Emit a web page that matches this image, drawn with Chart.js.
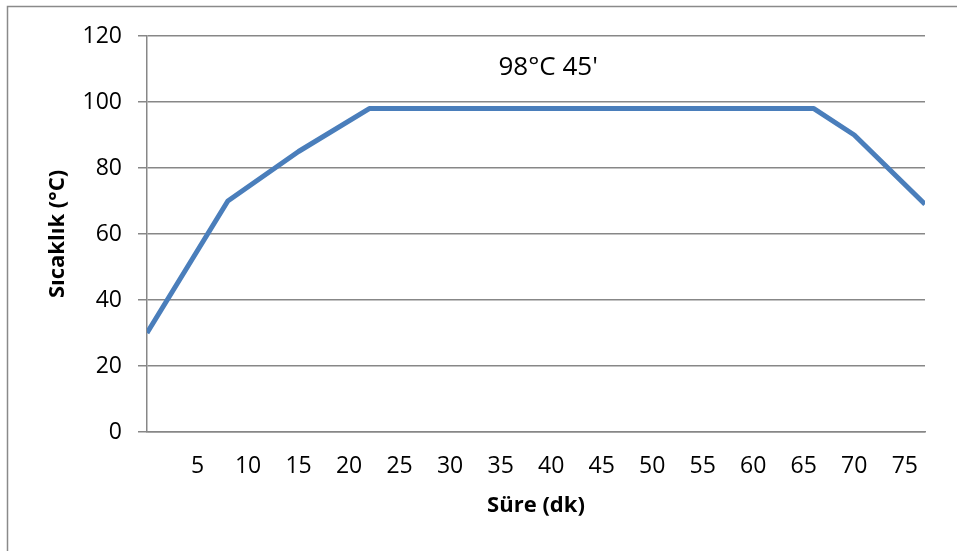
<!DOCTYPE html>
<html>
<head>
<meta charset="utf-8">
<script src="https://cdn.jsdelivr.net/npm/chart.js@4/dist/chart.umd.min.js"></script>
<style>
  html, body { margin: 0; padding: 0; background: #ffffff; }
  #wrap { width: 957px; height: 551px; position: relative; }
</style>
</head>
<body>
<div id="wrap"><canvas id="c" width="957" height="551"></canvas></div>
<script>
// Heating profile: time (minutes) against temperature (°C)
const timeMinutes = [0, 8, 15, 22, 66, 70, 77];
const temperatureC = [30, 70, 85, 98, 98, 90, 69];
const xTickValues = [5, 10, 15, 20, 25, 30, 35, 40, 45, 50, 55, 60, 65, 70, 75];
const holdLabel = "98°C 45'";
const xTitle = 'Süre (dk)';
const yTitle = 'Sıcaklık (°C)';

const FONT = "'Open Sans', 'Liberation Sans', sans-serif";
const GRID = '#878787';

// Outer frame and the hold-time note inside the plot
const decorations = {
  id: 'decorations',
  beforeDraw(chart) {
    const ctx = chart.ctx;
    ctx.save();
    ctx.fillStyle = '#ffffff';
    ctx.fillRect(0, 0, chart.width, chart.height);
    ctx.strokeStyle = '#8a8a8a';
    ctx.lineWidth = 1.5;
    ctx.strokeRect(7.5, 6.5, 1200, 1200);
    ctx.restore();
  },
  afterDatasetsDraw(chart) {
    const ctx = chart.ctx;
    const xs = chart.scales.x, ys = chart.scales.y;
    ctx.save();
    ctx.font = "26px " + FONT;
    ctx.fillStyle = '#000000';
    ctx.textAlign = 'center';
    ctx.textBaseline = 'middle';
    ctx.fillText(holdLabel, xs.getPixelForValue(39.7), ys.getPixelForValue(110.5));
    ctx.restore();
  }
};

new Chart(document.getElementById('c'), {
  type: 'line',
  data: {
    datasets: [{
      data: timeMinutes.map((t, i) => ({ x: t, y: temperatureC[i] })),
      borderColor: '#4a7ebb',
      borderWidth: 5,
      pointRadius: 0,
      tension: 0,
      borderJoinStyle: 'round',
      borderCapStyle: 'butt',
      fill: false
    }]
  },
  options: {
    responsive: false,
    animation: false,
    devicePixelRatio: 1,
    layout: { padding: { left: 0, right: 32, top: 36, bottom: 0 } },
    plugins: { legend: { display: false }, tooltip: { enabled: false } },
    scales: {
      x: {
        type: 'linear',
        min: 0,
        max: 77,
        afterBuildTicks(scale) { scale.ticks = xTickValues.map(v => ({ value: v })); },
        afterFit(scale) { scale.height = 119; },
        grid: { display: false, drawTicks: false, tickLength: 0 },
        border: { display: true, color: GRID, width: 1.5 },
        ticks: {
          autoSkip: false,
          maxRotation: 0,
          padding: 21,
          color: '#000000',
          font: { family: FONT, size: 23 }
        },
        title: {
          display: true,
          text: xTitle,
          color: '#000000',
          font: { family: FONT, size: 22, weight: 'bold' },
          padding: { top: 0, bottom: 32 }
        }
      },
      y: {
        min: 0,
        max: 120,
        afterFit(scale) { scale.width = 147; },
        grid: { color: GRID, lineWidth: 1.5, tickLength: 9, drawTicks: true },
        border: { display: true, color: GRID, width: 1.5 },
        ticks: {
          stepSize: 20,
          padding: 16,
          color: '#000000',
          font: { family: FONT, size: 23 }
        },
        title: {
          display: true,
          text: yTitle,
          color: '#000000',
          font: { family: FONT, size: 22, weight: 'bold' },
          padding: { top: 45, bottom: 0 }
        }
      }
    }
  },
  plugins: [decorations]
});
</script>
</body>
</html>
